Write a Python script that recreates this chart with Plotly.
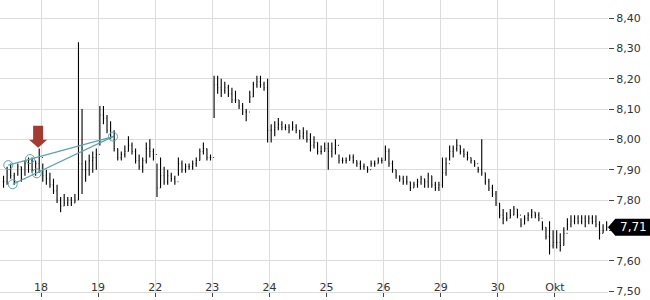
import plotly.graph_objects as go

# ---- sessions (trading days) ----
sessions = ["17", "18", "19", "22", "23", "24", "25", "26", "29", "30", "Okt"]
tick_labels = ["18", "19", "22", "23", "24", "25", "26", "29", "30", "Okt"]
slots_per_session = 16
bars_per_session = [11, 16, 16, 16, 16, 16, 16, 16, 16, 16, 15]

# ---- intraday bars ----
lows = [
    # 17
    7.84, 7.85, 7.87, 7.85, 7.88, 7.86, 7.88, 7.89, 7.89, 7.88, 7.89,
    # 18
    7.86, 7.85, 7.84, 7.82, 7.79, 7.76, 7.78, 7.78, 7.78, 7.79, 7.80, 7.82, 7.86, 7.88, 7.89, 7.90,
    # 19
    7.98, 8.05, 8.02, 8.00, 7.96, 7.93, 7.93, 7.94, 7.96, 7.95, 7.92, 7.90, 7.89, 7.92, 7.94, 7.93,
    # 22
    7.81, 7.84, 7.85, 7.85, 7.86, 7.85, 7.88, 7.89, 7.89, 7.90, 7.90, 7.91, 7.93, 7.95, 7.93, 7.93,
    # 23
    8.07, 8.15, 8.14, 8.15, 8.14, 8.12, 8.12, 8.10, 8.08, 8.06, 8.12, 8.14, 8.17, 8.17, 8.16, 7.99,
    # 24
    7.99, 8.01, 8.03, 8.03, 8.03, 8.02, 8.03, 8.02, 8.00, 8.00, 7.99, 7.96, 7.97, 7.95, 7.95, 7.96,
    # 25
    7.90, 7.94, 7.95, 7.92, 7.92, 7.92, 7.93, 7.92, 7.91, 7.90, 7.90, 7.89, 7.91, 7.91, 7.92, 7.92,
    # 26
    7.93, 7.91, 7.89, 7.87, 7.86, 7.85, 7.85, 7.83, 7.84, 7.84, 7.85, 7.84, 7.84, 7.84, 7.83, 7.83,
    # 29
    7.84, 7.88, 7.93, 7.94, 7.96, 7.95, 7.94, 7.93, 7.92, 7.91, 7.89, 7.88, 7.85, 7.83, 7.81, 7.78,
    # 30
    7.74, 7.72, 7.73, 7.74, 7.75, 7.74, 7.71, 7.72, 7.73, 7.74, 7.74, 7.73, 7.70, 7.67, 7.62, 7.64,
    # Okt
    7.64, 7.63, 7.65, 7.70, 7.71, 7.72, 7.72, 7.72, 7.71, 7.72, 7.72, 7.71, 7.67, 7.69, 7.70,
]
highs = [
    # 17
    7.88, 7.91, 7.92, 7.89, 7.92, 7.91, 7.93, 7.94, 7.94, 7.93, 7.97,
    # 18
    7.92, 7.90, 7.89, 7.87, 7.85, 7.81, 7.82, 7.81, 7.81, 7.82, 8.32, 8.10, 7.93, 7.95, 7.96, 7.97,
    # 19
    8.11, 8.11, 8.08, 8.06, 8.03, 7.97, 7.96, 7.98, 8.01, 7.99, 7.97, 7.95, 7.94, 7.99, 8.00, 7.97,
    # 22
    7.92, 7.94, 7.91, 7.90, 7.89, 7.88, 7.94, 7.93, 7.92, 7.92, 7.93, 7.94, 7.97, 7.99, 7.97, 7.95,
    # 23
    8.21, 8.21, 8.20, 8.19, 8.18, 8.17, 8.16, 8.13, 8.12, 8.10, 8.16, 8.19, 8.21, 8.21, 8.19, 8.20,
    # 24
    8.05, 8.06, 8.07, 8.06, 8.05, 8.05, 8.06, 8.05, 8.03, 8.04, 8.03, 8.02, 8.01, 7.99, 7.98, 7.99,
    # 25
    7.99, 7.99, 8.00, 7.95, 7.94, 7.94, 7.95, 7.95, 7.93, 7.93, 7.92, 7.91, 7.93, 7.93, 7.94, 7.94,
    # 26
    7.98, 7.97, 7.93, 7.90, 7.88, 7.88, 7.88, 7.86, 7.86, 7.87, 7.88, 7.87, 7.89, 7.88, 7.86, 7.86,
    # 29
    7.94, 7.94, 7.98, 7.98, 8.00, 7.98, 7.97, 7.96, 7.94, 7.93, 7.91, 8.00, 7.89, 7.87, 7.85, 7.83,
    # 30
    7.79, 7.77, 7.76, 7.77, 7.78, 7.77, 7.74, 7.75, 7.76, 7.77, 7.76, 7.76, 7.73, 7.71, 7.73, 7.70,
    # Okt
    7.70, 7.69, 7.71, 7.74, 7.75, 7.75, 7.75, 7.75, 7.75, 7.75, 7.75, 7.75, 7.73, 7.72, 7.73,
]
closes = [
    # 17
    7.86, 7.90, 7.88, 7.86, 7.91, 7.87, 7.92, 7.93, 7.90, 7.92, 7.94,
    # 18
    7.88, 7.87, 7.85, 7.83, 7.80, 7.78, 7.79, 7.80, 7.79, 7.80, 7.92, 7.90, 7.90, 7.93, 7.94, 7.95,
    # 19
    8.08, 8.07, 8.03, 8.01, 7.97, 7.94, 7.95, 7.96, 7.98, 7.96, 7.93, 7.91, 7.93, 7.97, 7.96, 7.95,
    # 22
    7.84, 7.88, 7.86, 7.88, 7.87, 7.86, 7.92, 7.90, 7.91, 7.91, 7.92, 7.93, 7.96, 7.97, 7.94, 7.94,
    # 23
    8.18, 8.17, 8.16, 8.17, 8.15, 8.13, 8.13, 8.11, 8.09, 8.09, 8.14, 8.18, 8.19, 8.18, 8.17, 8.03,
    # 24
    8.03, 8.04, 8.05, 8.04, 8.04, 8.03, 8.04, 8.03, 8.01, 8.02, 8.00, 7.98, 7.99, 7.96, 7.96, 7.97,
    # 25
    7.96, 7.97, 7.98, 7.93, 7.93, 7.93, 7.94, 7.93, 7.92, 7.91, 7.91, 7.90, 7.92, 7.92, 7.93, 7.93,
    # 26
    7.96, 7.92, 7.90, 7.88, 7.87, 7.86, 7.86, 7.84, 7.85, 7.86, 7.87, 7.86, 7.88, 7.85, 7.84, 7.85,
    # 29
    7.89, 7.92, 7.96, 7.97, 7.98, 7.96, 7.95, 7.94, 7.93, 7.92, 7.90, 7.89, 7.86, 7.84, 7.82, 7.79,
    # 30
    7.75, 7.74, 7.74, 7.75, 7.77, 7.75, 7.72, 7.74, 7.75, 7.76, 7.75, 7.74, 7.71, 7.68, 7.65, 7.66,
    # Okt
    7.66, 7.65, 7.69, 7.72, 7.73, 7.74, 7.73, 7.74, 7.73, 7.74, 7.73, 7.72, 7.69, 7.70, 7.71,
]

# ---- y axis ticks ----
y_ticks = [7.50, 7.60, 7.70, 7.80, 7.90, 8.00, 8.10, 8.20, 8.30, 8.40]
y_tick_labels = ["7,50", "7,60", "", "7,80", "7,90", "8,00", "8,10", "8,20", "8,30", "8,40"]

# ---- drawing annotations (trend lines, in session units / price) ----
trend_upper_x = [-0.573, 1.261]
trend_upper_y = [7.915, 8.009]
trend_lower_x = [-0.496, 1.261]
trend_lower_y = [7.852, 8.009]
anchor_x = [-0.573, -0.496, -0.193, -0.075, 1.261]
anchor_y = [7.915, 7.852, 7.935, 7.888, 8.009]
signal_x = -0.05
signal_price = 7.972

# ---- build x positions on a session-based time axis ----
x = []
for s, n in enumerate(bars_per_session):
    start = slots_per_session - n if s == 0 else 0
    for k in range(n):
        x.append(s - 1 + (start + k + 0.5) / slots_per_session)
opens = [closes[0]] + closes[:-1]

fig = go.Figure()
fig.add_trace(go.Ohlc(
    x=x, open=opens, high=highs, low=lows, close=closes,
    increasing_line_color="black", decreasing_line_color="black",
    line_width=1.1, tickwidth=0.2, hoverinfo="skip",
))

teal = "#5aa4ae"
fig.add_trace(go.Scatter(
    x=trend_upper_x + [None] + trend_lower_x,
    y=trend_upper_y + [None] + trend_lower_y,
    mode="lines", line=dict(color=teal, width=1.2), hoverinfo="skip",
))
fig.add_trace(go.Scatter(
    x=anchor_x, y=anchor_y, mode="markers",
    marker=dict(symbol="circle-open", size=9, color=teal, line=dict(width=1)),
    hoverinfo="skip",
))

# red signal arrow (pixel-sized, anchored at the bar)
fig.add_shape(
    type="path", xref="x", yref="y", xsizemode="pixel", ysizemode="pixel",
    xanchor=signal_x, yanchor=signal_price,
    path="M 0,0 L -9,8 L -5,8 L -5,22 L 5,22 L 5,8 L 9,8 Z",
    fillcolor="#a33b33", line=dict(width=0), layer="above",
)

# last price label
last = closes[-1]
fig.add_shape(
    type="path", xref="paper", yref="y", ysizemode="pixel", yanchor=last,
    path="M 1.0,0 L 1.012,8.5 L 1.07,8.5 L 1.07,-8.5 L 1.012,-8.5 Z",
    fillcolor="black", line=dict(width=0), layer="above",
)
fig.add_annotation(
    x=1.042, xref="paper", y=last, yref="y", text=f"{last:.2f}".replace(".", ","),
    showarrow=False, font=dict(color="white", size=12, family="DejaVu Sans"),
    xanchor="center", yanchor="middle",
)

fig.update_layout(
    width=650, height=300,
    margin=dict(l=0, r=42, t=0, b=8),
    paper_bgcolor="white", plot_bgcolor="white",
    showlegend=False, separators=",.",
    font=dict(family="DejaVu Sans", size=11, color="#333333"),
)
fig.update_xaxes(
    range=[-0.718, 9.93], tickvals=list(range(len(tick_labels))), ticktext=tick_labels,
    ticks="outside", ticklen=4, tickcolor="#444444",
    ticklabelposition="outside", ticklabelstandoff=-19,
    showgrid=True, gridcolor="#dcdcdc", gridwidth=1,
    zeroline=False, showline=True, linecolor="#dcdcdc", linewidth=1,
    rangeslider_visible=False,
)
fig.update_yaxes(
    side="right", range=[7.4967, 8.4594], tickvals=y_ticks, ticktext=y_tick_labels,
    ticks="outside", ticklen=5, tickcolor="#444444",
    showgrid=True, gridcolor="#dcdcdc", gridwidth=1, zeroline=False, showline=False,
)

fig.write_html("out.html")
